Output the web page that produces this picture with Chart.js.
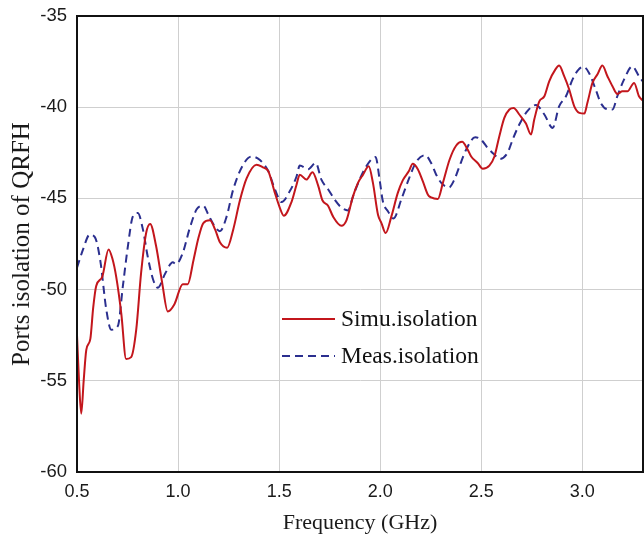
<!DOCTYPE html>
<html><head><meta charset="utf-8">
<script src="https://cdn.jsdelivr.net/npm/chart.js@4"></script>
<style>html,body{margin:0;padding:0;background:#fff}#wrap{width:644px;height:539px;position:relative}</style>
</head><body><div id="wrap"><canvas id="c" width="644" height="539"></canvas></div>
<script>
const simuFreq = [0.500,0.510,0.521,0.533,0.546,0.566,0.580,0.595,0.625,0.656,0.675,0.694,0.719,0.743,0.768,0.793,0.817,0.842,0.862,0.891,0.921,0.949,0.982,1.023,1.048,1.076,1.100,1.125,1.158,1.183,1.207,1.243,1.273,1.306,1.339,1.388,1.420,1.446,1.479,1.503,1.523,1.561,1.586,1.602,1.635,1.665,1.693,1.714,1.742,1.767,1.808,1.833,1.865,1.890,1.915,1.943,1.964,1.989,2.006,2.027,2.055,2.087,2.112,2.142,2.161,2.186,2.211,2.236,2.252,2.285,2.310,2.343,2.376,2.405,2.433,2.450,2.482,2.507,2.540,2.565,2.589,2.614,2.639,2.660,2.688,2.721,2.746,2.762,2.787,2.812,2.836,2.866,2.885,2.910,2.935,2.960,2.985,3.010,3.025,3.050,3.075,3.099,3.124,3.149,3.173,3.198,3.223,3.256,3.280,3.300];
const simuIsolation = [-52.5,-55.0,-56.8,-55.0,-53.3,-52.7,-51.0,-49.8,-49.3,-47.8,-48.3,-49.3,-51.3,-53.8,-53.7,-52.2,-49.1,-46.9,-46.4,-47.6,-49.6,-51.2,-50.8,-49.7,-49.7,-48.4,-47.2,-46.35,-46.2,-46.7,-47.4,-47.7,-46.7,-45.1,-43.9,-43.15,-43.3,-43.5,-44.7,-45.5,-45.95,-45.2,-44.25,-43.7,-43.97,-43.57,-44.3,-45.1,-45.4,-46.0,-46.5,-46.2,-44.9,-44.15,-43.7,-43.24,-44.15,-45.9,-46.35,-46.9,-46.0,-44.7,-44.0,-43.5,-43.1,-43.4,-44.07,-44.8,-44.95,-45.03,-44.15,-42.88,-42.1,-41.9,-42.33,-42.7,-43.06,-43.37,-43.2,-42.7,-41.6,-40.59,-40.13,-40.04,-40.4,-40.9,-41.5,-40.68,-39.68,-39.4,-38.58,-37.94,-37.72,-38.3,-39.03,-39.95,-40.31,-40.35,-39.76,-38.67,-38.2,-37.72,-38.3,-38.85,-39.27,-39.13,-39.13,-38.67,-39.4,-39.65];
const measFreq = [0.500,0.530,0.562,0.587,0.615,0.645,0.669,0.702,0.727,0.752,0.776,0.801,0.826,0.850,0.878,0.900,0.937,0.974,0.990,1.023,1.056,1.092,1.125,1.150,1.174,1.207,1.240,1.273,1.322,1.364,1.405,1.446,1.479,1.512,1.553,1.586,1.602,1.643,1.681,1.709,1.742,1.775,1.808,1.841,1.865,1.898,1.931,1.977,1.997,2.013,2.038,2.066,2.104,2.137,2.178,2.222,2.252,2.277,2.302,2.340,2.367,2.392,2.425,2.470,2.499,2.532,2.565,2.592,2.630,2.655,2.688,2.729,2.770,2.812,2.853,2.885,2.919,2.951,2.980,3.005,3.033,3.066,3.091,3.120,3.149,3.173,3.206,3.247,3.280,3.300];
const measIsolation = [-48.8,-47.8,-47.0,-47.1,-48.4,-51.1,-52.2,-52.0,-49.8,-47.6,-46.0,-45.8,-46.7,-48.2,-49.5,-49.9,-49.1,-48.5,-48.6,-48.0,-46.7,-45.6,-45.4,-45.9,-46.4,-46.8,-46.0,-44.5,-43.15,-42.7,-42.9,-43.5,-44.5,-45.2,-44.6,-43.8,-43.2,-43.4,-43.06,-43.97,-44.5,-45.07,-45.5,-45.66,-44.9,-43.97,-43.24,-42.73,-43.97,-45.16,-45.7,-46.1,-45.07,-44.07,-43.0,-42.63,-43.06,-43.7,-44.15,-44.4,-43.97,-43.24,-42.33,-41.65,-41.78,-42.24,-42.6,-42.84,-42.5,-41.78,-40.95,-40.2,-39.88,-40.4,-41.14,-39.95,-39.4,-38.49,-37.95,-37.78,-38.12,-39.03,-39.76,-40.1,-40.13,-39.4,-38.49,-37.76,-38.3,-38.6];
const seriesNames = ['Simu.isolation', 'Meas.isolation'];
const xTicks = [0.5, 1.0, 1.5, 2.0, 2.5, 3.0];
const xTickLabels = ['0.5', '1.0', '1.5', '2.0', '2.5', '3.0'];
const yTicks = [-60, -55, -50, -45, -40, -35];
const yTickLabels = ['-60', '-55', '-50', '-45', '-40', '-35'];
const xTitle = 'Frequency (GHz)';
const yTitle = 'Ports isolation of QRFH';

const RED = '#c3161c', BLUE = '#2b2f8f';

const framePlugin = {
  id: 'frame',
  afterDatasetsDraw(chart) {
    const {ctx, chartArea: a} = chart;
    ctx.save();
    ctx.strokeStyle = '#111';
    ctx.lineWidth = 2;
    ctx.strokeRect(a.left, a.top, a.right - a.left, a.bottom - a.top);
    ctx.restore();
  }
};

const legendPlugin = {
  id: 'insideLegend',
  afterDraw(chart) {
    const {ctx} = chart;
    const x0 = 282, x1 = 335, tx = 341;
    const ys = [319, 356];
    ctx.save();
    ctx.font = '23.5px "Liberation Serif", "Times New Roman", serif';
    ctx.textBaseline = 'middle';
    ctx.fillStyle = '#111';
    chart.data.datasets.forEach((ds, i) => {
      ctx.beginPath();
      ctx.strokeStyle = ds.borderColor;
      ctx.lineWidth = 2;
      ctx.setLineDash(ds.borderDash || []);
      ctx.moveTo(x0, ys[i]);
      ctx.lineTo(x1, ys[i]);
      ctx.stroke();
      ctx.setLineDash([]);
      ctx.fillText(ds.label, tx, ys[i] + 1);
    });
    ctx.restore();
  }
};

const toPts = (xs, ys) => xs.map((x, i) => ({x: x, y: ys[i]}));

new Chart(document.getElementById('c'), {
  type: 'line',
  data: {
    datasets: [
      { label: seriesNames[0], data: toPts(simuFreq, simuIsolation), borderColor: RED, borderWidth: 2,
        pointRadius: 0, cubicInterpolationMode: 'monotone', fill: false },
      { label: seriesNames[1], data: toPts(measFreq, measIsolation), borderColor: BLUE, borderWidth: 2,
        borderDash: [8, 5], pointRadius: 0, cubicInterpolationMode: 'monotone', fill: false }
    ]
  },
  options: {
    responsive: false,
    animation: false,
    devicePixelRatio: 1,
    layout: { padding: { top: 16, right: 1, left: 0, bottom: 0 } },
    plugins: { legend: { display: false }, tooltip: { enabled: false } },
    scales: {
      x: {
        type: 'linear', min: 0.5, max: 3.3,
        afterBuildTicks: s => { s.ticks = xTicks.map(v => ({value: v})); },
        afterFit: s => { s.height = 67; s.paddingLeft = 0; s.paddingRight = 0; s.paddingTop = 0; s.paddingBottom = 0; },
        ticks: { padding: 9, color: '#1a1a1a', font: { family: '"Liberation Sans", Arial, sans-serif', size: 18 },
                 maxRotation: 0, autoSkip: false,
                 callback: v => xTickLabels[xTicks.indexOf(v)] },
        grid: { color: '#cfcfcf', lineWidth: 1, drawTicks: false },
        border: { color: '#111', width: 2 },
        title: { display: true, text: xTitle, color: '#1a1a1a',
                 font: { family: '"Liberation Serif", "Times New Roman", serif', size: 22 },
                 padding: { top: 0, bottom: 3 } }
      },
      y: {
        type: 'linear', min: -60, max: -35,
        afterBuildTicks: s => { s.ticks = yTicks.map(v => ({value: v})); },
        afterFit: s => { s.width = 77; s.paddingTop = 0; s.paddingBottom = 0; s.paddingLeft = 0; s.paddingRight = 0; },
        ticks: { padding: 10, color: '#1a1a1a', font: { family: '"Liberation Sans", Arial, sans-serif', size: 18.5 },
                 autoSkip: false,
                 callback: v => yTickLabels[yTicks.indexOf(v)] },
        grid: { color: '#cfcfcf', lineWidth: 1, drawTicks: false },
        border: { color: '#111', width: 2 },
        title: { display: true, text: yTitle, color: '#1a1a1a',
                 font: { family: '"Liberation Serif", "Times New Roman", serif', size: 25 },
                 padding: { top: 7, bottom: 0 } }
      }
    }
  },
  plugins: [framePlugin, legendPlugin]
});
</script>
</body></html>
